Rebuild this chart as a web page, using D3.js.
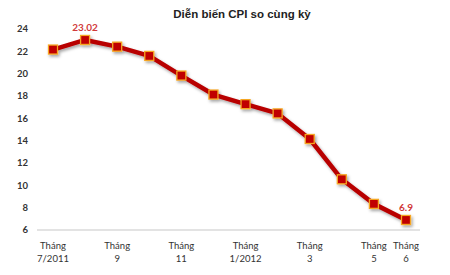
<!DOCTYPE html>
<html>
<head>
<meta charset="utf-8">
<script src="https://cdn.jsdelivr.net/npm/d3@7/dist/d3.min.js"></script>
<style>
body { margin: 0; background: #fff; }
text { font-family: Lato, "Open Sans", sans-serif; }
</style>
</head>
<body>
<script>
var width = 450, height = 275;

var months = ["7/2011", "8", "9", "10", "11", "12", "1/2012", "2", "3", "4", "5", "6"];
var cpi = [22.16, 23.02, 22.42, 21.59, 19.83, 18.13, 17.27, 16.44, 14.15, 10.54, 8.34, 6.9];
var shownLabels = ["7/2011", "9", "11", "1/2012", "3", "5", "6"];
var yTicks = [6, 8, 10, 12, 14, 16, 18, 20, 22, 24];
var valueLabels = ["8", "6"]; // months with value printed

var x = d3.scalePoint()
	.domain(months)
	.range([53, 406]);

var y = d3.scaleLinear()
	.domain([6, 24])
	.range([230, 29]);

var svg = d3.select("body")
	.append("svg")
	.attr("width", width)
	.attr("height", height);

var defs = svg.append("defs");
var f = defs.append("filter").attr("id", "shadow")
	.attr("x", "-10%").attr("y", "-10%").attr("width", "130%").attr("height", "140%");
f.append("feDropShadow")
	.attr("dx", 1.5).attr("dy", 2)
	.attr("stdDeviation", 1.5)
	.attr("flood-color", "#000")
	.attr("flood-opacity", 0.35);

// title
svg.append("text")
	.attr("x", 242)
	.attr("y", 18)
	.attr("text-anchor", "middle")
	.style("font-family", "'Liberation Sans', Arial, sans-serif")
	.style("font-size", "11.5px")
	.style("font-weight", "bold")
	.attr("fill", "#222")
	.text("Diễn biến CPI so cùng kỳ");

// y axis labels
svg.append("g")
	.selectAll("text")
	.data(yTicks)
	.enter()
	.append("text")
	.attr("x", 28)
	.attr("y", function(d) { return y(d); })
	.attr("dy", "0.35em")
	.attr("text-anchor", "end")
	.style("font-size", "9.5px")
	.style("font-weight", "bold")
	.attr("fill", "#333")
	.text(function(d) { return d; });

// baseline
svg.append("line")
	.attr("x1", 37).attr("x2", 420)
	.attr("y1", y(6)).attr("y2", y(6))
	.attr("stroke", "#c8c8c8")
	.attr("stroke-width", 1.2);

// x labels
var xl = svg.append("g")
	.selectAll("text")
	.data(shownLabels)
	.enter()
	.append("text")
	.attr("text-anchor", "middle")
	.style("font-size", "9.5px")
	.attr("fill", "#333");
xl.append("tspan")
	.attr("x", function(d) { return x(d); })
	.attr("y", 249)
	.text("Tháng");
xl.append("tspan")
	.attr("x", function(d) { return x(d); })
	.attr("y", 262)
	.text(function(d) { return d; });

var data = months.map(function(m, i) { return {m: m, v: cpi[i]}; });

var line = d3.line()
	.x(function(d) { return x(d.m); })
	.y(function(d) { return y(d.v); });

var g = svg.append("g").attr("filter", "url(#shadow)");

g.append("path")
	.datum(data)
	.attr("d", line)
	.attr("fill", "none")
	.attr("stroke", "#b80000")
	.attr("stroke-width", 4.5)
	.attr("stroke-linejoin", "round");

g.selectAll(".pt")
	.data(data)
	.enter()
	.append("rect")
	.attr("class", "pt")
	.attr("x", function(d) { return x(d.m) - 4.5; })
	.attr("y", function(d) { return y(d.v) - 4.5; })
	.attr("width", 9)
	.attr("height", 9)
	.attr("fill", "#c00000")
	.attr("stroke", "#f5a623")
	.attr("stroke-width", 1.3);

svg.selectAll(".vl")
	.data(data.filter(function(d) { return valueLabels.indexOf(d.m) >= 0; }))
	.enter()
	.append("text")
	.attr("class", "vl")
	.attr("x", function(d) { return x(d.m); })
	.attr("y", function(d) { return y(d.v) - 9; })
	.attr("text-anchor", "middle")
	.style("font-size", "10px")
	.style("font-weight", "bold")
	.attr("fill", "#d13a3a")
	.text(function(d) { return d.v; });
</script>
</body>
</html>
